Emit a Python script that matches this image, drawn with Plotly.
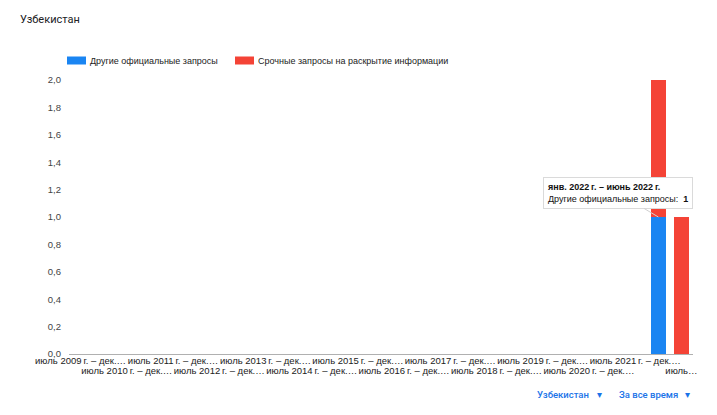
import plotly.graph_objects as go

NB = "\u202f"

categories = [
    "июль 2009 г. – дек. 2009 г.",
    "янв. 2010 г. – июнь 2010 г.", "июль 2010 г. – дек. 2010 г.",
    "янв. 2011 г. – июнь 2011 г.", "июль 2011 г. – дек. 2011 г.",
    "янв. 2012 г. – июнь 2012 г.", "июль 2012 г. – дек. 2012 г.",
    "янв. 2013 г. – июнь 2013 г.", "июль 2013 г. – дек. 2013 г.",
    "янв. 2014 г. – июнь 2014 г.", "июль 2014 г. – дек. 2014 г.",
    "янв. 2015 г. – июнь 2015 г.", "июль 2015 г. – дек. 2015 г.",
    "янв. 2016 г. – июнь 2016 г.", "июль 2016 г. – дек. 2016 г.",
    "янв. 2017 г. – июнь 2017 г.", "июль 2017 г. – дек. 2017 г.",
    "янв. 2018 г. – июнь 2018 г.", "июль 2018 г. – дек. 2018 г.",
    "янв. 2019 г. – июнь 2019 г.", "июль 2019 г. – дек. 2019 г.",
    "янв. 2020 г. – июнь 2020 г.", "июль 2020 г. – дек. 2020 г.",
    "янв. 2021 г. – июнь 2021 г.", "июль 2021 г. – дек. 2021 г.",
    "янв. 2022 г. – июнь 2022 г.", "июль 2022 г. – дек. 2022 г.",
]

other_requests = [0, 0, 0, 0, 0, 0, 0, 0, 0, 0, 0, 0, 0, 0, 0, 0, 0, 0, 0, 0, 0, 0, 0, 0, 0, 1, 0]
urgent_requests = [0, 0, 0, 0, 0, 0, 0, 0, 0, 0, 0, 0, 0, 0, 0, 0, 0, 0, 0, 0, 0, 0, 0, 0, 0, 1, 1]

tick_categories = [
    "июль 2009 г. – дек. 2009 г.", "июль 2010 г. – дек. 2010 г.",
    "июль 2011 г. – дек. 2011 г.", "июль 2012 г. – дек. 2012 г.",
    "июль 2013 г. – дек. 2013 г.", "июль 2014 г. – дек. 2014 г.",
    "июль 2015 г. – дек. 2015 г.", "июль 2016 г. – дек. 2016 г.",
    "июль 2017 г. – дек. 2017 г.", "июль 2018 г. – дек. 2018 г.",
    "июль 2019 г. – дек. 2019 г.", "июль 2020 г. – дек. 2020 г.",
    "июль 2021 г. – дек. 2021 г.", "июль 2022 г. – дек. 2022 г.",
]
tick_labels = [
    "июль 2009 г. – дек.…", "июль 2010 г. – дек.…",
    "июль 2011 г. – дек.…", "июль 2012 г. – дек.…",
    "июль 2013 г. – дек.…", "июль 2014 г. – дек.…",
    "июль 2015 г. – дек.…", "июль 2016 г. – дек.…",
    "июль 2017 г. – дек.…", "июль 2018 г. – дек.…",
    "июль 2019 г. – дек.…", "июль 2020 г. – дек.…",
    "июль 2021 г. – дек.…", "июль…",
]

series_names = ["Другие официальные запросы", "Срочные запросы на раскрытие информации"]
title_text = "Узбекистан"
tooltip_category = "янв. 2022 г. – июнь 2022 г."
tooltip_value = 1
selector_labels = ["Узбекистан", "За все время"]

BLUE = "#1a85f2"
RED = "#f44336"
LINK = "#1a73e8"
FONT = "Liberation Sans, Arial, sans-serif"
TICKFONT = dict(family=FONT, size=9.5, color="#222222")

# screen-space plot box
OFF = 8
PX0, PX1, PY0, PY1 = 69, 693, 80, 354
PW, PH = PX1 - PX0, PY1 - PY0


def px(sx):
    return (sx - PX0) / PW


def py(sy):
    return (PY1 - sy) / PH


def narrow(s):
    return s.replace(" г.", NB + "г.")


# split tick labels into two staggered rows
row1_vals = [categories.index(c) for c in tick_categories[0::2]]
row1_text = [narrow(t) for t in tick_labels[0::2]]
row2_vals = [categories.index(c) for c in tick_categories[1::2]]
row2_text = [narrow(t) for t in tick_labels[1::2]]
xrange = [-0.5, len(categories) - 0.5]

fig = go.Figure()
fig.add_trace(go.Bar(x=list(range(len(categories))), y=other_requests, name=series_names[0],
                     customdata=categories, hovertemplate="%{customdata}<extra></extra>",
                     marker=dict(color=BLUE, line=dict(width=0))))
fig.add_trace(go.Bar(x=list(range(len(categories))), y=urgent_requests, name=series_names[1],
                     customdata=categories, hovertemplate="%{customdata}<extra></extra>",
                     marker=dict(color=RED, line=dict(width=0))))

fig.update_layout(
    width=717, height=415,
    barmode="stack", bargap=0.37,
    showlegend=False,
    separators=", ",
    paper_bgcolor="white", plot_bgcolor="white",
    margin=dict(l=PX0 - OFF, r=717 - (PX1 - OFF), t=PY0 - OFF, b=415 - (PY1 - OFF), pad=0),
    font=dict(family=FONT, size=9.5, color="#222222"),
    xaxis=dict(
        type="linear", range=xrange,
        tickmode="array", tickvals=row1_vals, ticktext=row1_text,
        tickangle=0, ticks="", showgrid=False, zeroline=False,
        showline=True, linecolor="#b0b0b0", linewidth=1,
        tickfont=TICKFONT, ticklabelstandoff=-2,
    ),
    xaxis2=dict(
        type="linear", range=xrange, overlaying="x", side="bottom", anchor="y",
        tickmode="array", tickvals=row2_vals, ticktext=row2_text,
        tickangle=0, ticks="", showgrid=False, zeroline=False, showline=False,
        tickfont=TICKFONT, ticklabelstandoff=9,
    ),
    yaxis=dict(
        range=[0, 2.0], tickvals=[0, 0.2, 0.4, 0.6, 0.8, 1.0, 1.2, 1.4, 1.6, 1.8, 2.0],
        tickformat=".1f", showgrid=False, zeroline=False, showline=False,
        ticks="", tickfont=dict(family=FONT, size=9.5, color="#444444"),
        ticklabelstandoff=7,
    ),
)
# invisible helper trace so the second x axis is drawn
fig.add_trace(go.Scatter(x=[xrange[0]], y=[0], xaxis="x2", yaxis="y", mode="markers",
                         marker=dict(opacity=0), hoverinfo="skip", showlegend=False))

# title
fig.add_annotation(xref="paper", yref="paper", x=px(18), y=py(19),
                   xanchor="left", yanchor="middle", showarrow=False,
                   text=title_text, font=dict(family="Roboto, sans-serif", size=11, color="#202124"))

# custom legend
for color, name, lx in [(BLUE, series_names[0], 67), (RED, series_names[1], 235)]:
    fig.add_shape(type="rect", xref="paper", yref="paper",
                  x0=px(lx), x1=px(lx + 19), y0=py(64.5), y1=py(56.5),
                  fillcolor=color, line=dict(width=0))
    fig.add_annotation(xref="paper", yref="paper", x=px(lx + 21), y=py(61),
                       xanchor="left", yanchor="middle", showarrow=False,
                       text=name, font=dict(family=FONT, size=9, color="#222222"))

# tooltip
fig.add_annotation(
    x=categories.index(tooltip_category), y=tooltip_value, xref="x", yref="y",
    text="<b>" + narrow(tooltip_category) + "</b><br>" + series_names[0] + ":  <b>" + str(tooltip_value) + "</b>",
    align="left", showarrow=True, arrowhead=0, arrowwidth=1, arrowcolor="#d0d0d0",
    ax=-40, ay=-24, xanchor="center", yanchor="middle",
    bgcolor="white", bordercolor="#dadada", borderwidth=1, borderpad=4,
    font=dict(family=FONT, size=9, color="#111111"),
)

# bottom selectors
for label, sx, ax_ in zip(selector_labels, [535, 617], [595, 683]):
    fig.add_annotation(xref="paper", yref="paper", x=px(sx), y=py(394),
                       xanchor="left", yanchor="middle", showarrow=False,
                       text=label,
                       font=dict(family="Roboto, sans-serif", size=9.5, color=LINK, weight=500))
    fig.add_annotation(xref="paper", yref="paper", x=px(ax_), y=py(394),
                       xanchor="left", yanchor="middle", showarrow=False,
                       text="▾",
                       font=dict(family="DejaVu Sans, sans-serif", size=10, color=LINK))

fig.write_html("out.html")
